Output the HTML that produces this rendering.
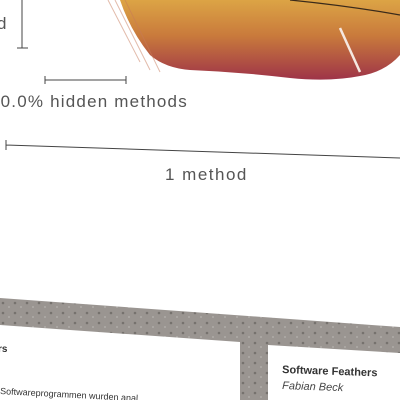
<!DOCTYPE html>
<html><head><style>
html,body{margin:0;padding:0;background:#fff;width:400px;height:400px;overflow:hidden}
svg{display:block}
text{font-family:"Liberation Sans",sans-serif}
</style></head><body>
<svg width="400" height="400" viewBox="0 0 400 400">
<defs>
<linearGradient id="fg" x1="0" y1="0" x2="0" y2="1">
<stop offset="0" stop-color="#dca445"/>
<stop offset="0.45" stop-color="#c97a3c"/>
<stop offset="1" stop-color="#9e3448"/>
</linearGradient>
<pattern id="conc" width="12" height="10" patternUnits="userSpaceOnUse">
<rect width="12" height="10" fill="#9a9591"/>
<circle cx="3" cy="3" r="1.3" fill="#76726e"/>
<circle cx="9" cy="7" r="1" fill="#b0aca8"/>
</pattern>
</defs>
<g>
<path d="M120,0 L400,0 L400,55 Q385,72 360,76 Q330,82 290,78 Q240,72 190,70 Q165,68 150,55 Q130,30 120,0 Z" fill="url(#fg)"/>
<path d="M115,0 L150,70 M125,0 L160,72 M108,0 L140,62" stroke="#c77a5a" stroke-width="1" opacity="0.5"/>
<path d="M290,0 Q350,6 400,15" stroke="#3a2a1a" stroke-width="1.2" fill="none"/>
<path d="M340,28 L360,72" stroke="#f5e8e0" stroke-width="2.5"/>
</g>
<g stroke="#444" stroke-width="1" fill="none">
<path d="M22,0 V48 M17,48 H28"/>
<path d="M45,80 H126 M45,76 V84 M126,76 V84"/>
<path d="M6,145 L400,158 M6,140 V150"/>
</g>
<text x="-3" y="29" font-size="17" fill="#555">d</text>
<text x="-10" y="107" font-size="17" fill="#555" letter-spacing="1.2">00.0% hidden methods</text>
<text x="165" y="180" font-size="17" fill="#555" letter-spacing="1.5">1 method</text>
<polygon points="0,298 400,327 400,353 268,345 268,400 240,400 240,342 0,325" fill="url(#conc)"/>
<g>
<text x="-2" y="352" font-size="10" font-weight="bold" fill="#333">rs</text>
<text x="0" y="394" font-size="9" fill="#333" transform="rotate(3 0 394)">Softwareprogrammen wurden anal</text>
</g>
<g>
<text x="282" y="373" font-size="11" font-weight="bold" fill="#333" transform="rotate(2 282 373)">Software Feathers</text>
<text x="282" y="389" font-size="11" font-style="italic" fill="#444" transform="rotate(2 282 389)">Fabian Beck</text>
</g>
</svg>
</body></html>
